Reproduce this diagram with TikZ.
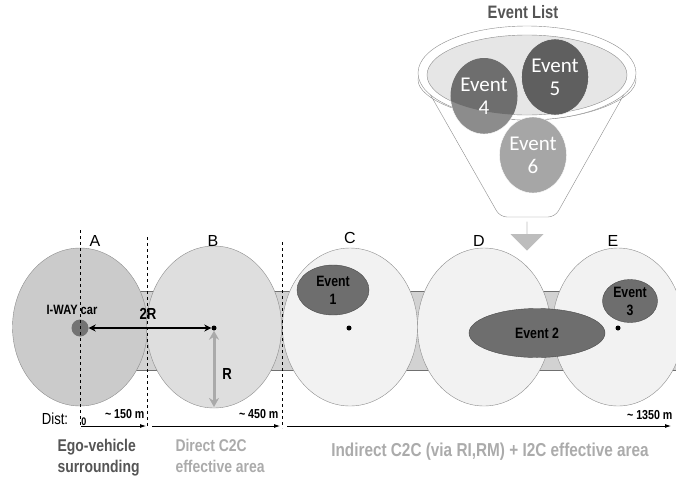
\documentclass[tikz,border=0pt]{standalone}
\usepackage{fontspec}
\setmainfont{Liberation Sans}
\newfontfamily\narrowfont[FakeStretch=0.82]{Liberation Sans}
\newfontfamily\eventfont{Carlito}
\usetikzlibrary{arrows.meta,positioning,shapes.geometric,shapes.arrows}
\definecolor{roadfill}{HTML}{D2D2D2}
\definecolor{zoneline}{HTML}{8C8C8C}
\definecolor{egofill}{HTML}{CBCBCB}
\definecolor{directfill}{HTML}{DEDEDE}
\definecolor{indirectfill}{HTML}{F2F2F2}
\definecolor{evfill}{HTML}{6E6E6E}
\definecolor{evline}{HTML}{4A4A4A}
\definecolor{listdark}{HTML}{5F5F5F}
\definecolor{listmid}{HTML}{8C8C8C}
\definecolor{listlight}{HTML}{A6A6A6}
\definecolor{funnelin}{HTML}{E6E6E6}
\definecolor{dropgray}{HTML}{BDBDBD}
\definecolor{textdark}{HTML}{555555}
\definecolor{textlight}{HTML}{ABABAB}
\tikzset{
  zone/.style={ellipse,draw=zoneline,minimum width=135pt,minimum height=158pt,inner sep=0pt},
  event/.style={ellipse,draw=evline,fill=evfill,font=\narrowfont\bfseries\fontsize{15}{18}\selectfont,align=center,inner sep=0pt},
  listevent/.style={ellipse,draw=white,minimum width=67pt,minimum height=76pt,inner sep=0pt},
  listtext/.style={text=white,font=\eventfont\fontsize{21}{23}\selectfont,align=center},
  zonelabel/.style={font=\fontsize{16}{16}\selectfont},
  marker/.style={circle,fill=black,inner sep=0pt,minimum size=5pt},
  guide/.style={dashed,line width=0.6pt},
  distarrow/.style={-{Latex[length=6pt,width=4pt]},line width=0.8pt},
  distlabel/.style={font=\narrowfont\bfseries\fontsize{13}{13}\selectfont},
  area/.style={font=\narrowfont\bfseries\fontsize{17}{21}\selectfont,align=left}
}

\begin{document}
\begin{tikzpicture}[x=1pt,y=-1pt]
  \useasboundingbox (0,0) rectangle (676,482);

  % road band behind the zones
  \draw[draw=zoneline!80!black,fill=roadfill] (40,291) rectangle (676,370);

  % communication zones
  \node[zone,fill=egofill] (A) at (80,327) {};
  \node[zone,fill=directfill,minimum height=162pt] (B) at (214,327) {};
  \node[zone,fill=indirectfill] (C) at (350,327) {};
  \node[zone,fill=indirectfill,minimum width=133pt] (D) at (484,327) {};
  \node[zone,fill=indirectfill,minimum width=131pt] (E) at (618,327) {};

  \node[zonelabel] at (95,241) {A};
  \node[zonelabel] at (213,241) {B};
  \node[zonelabel] at (350,238) {C};
  \node[zonelabel] at (479,241) {D};
  \node[zonelabel] at (613,241) {E};

  % events on the road
  \node[event,minimum width=72pt,minimum height=50pt] (ev1) at (333,290) {Event\\1};
  \node[event,minimum width=136pt,minimum height=49pt] (ev2) at (537,333) {Event 2};
  \node[event,minimum width=55pt,minimum height=43pt] (ev3) at (630,301) {Event\\3};

  % ego car and zone centres
  \node[circle,fill=black!55,inner sep=0pt,minimum size=17pt] (car) at (80,328) {};
  \node[font=\narrowfont\bfseries\fontsize{13.5}{13.5}\selectfont] at (72,310) {I-WAY car};
  \node[marker] (cB) at (214,328) {};
  \node[marker] (cC) at (349,328) {};
  \node[marker] (cE) at (618,328) {};
  \coordinate (rimB) at (214,407);

  \draw[{Stealth[length=7pt,width=7pt]}-{Stealth[length=7pt,width=7pt]},line width=1.4pt] (car) -- (cB);
  \node[font=\narrowfont\bfseries\fontsize{16}{16}\selectfont] at (148,314) {2R};
  \draw[{Stealth[length=9pt,width=10pt]}-{Stealth[length=9pt,width=10pt]},line width=3pt,dropgray!90!black] (cB) -- (rimB);
  \node[font=\narrowfont\bfseries\fontsize{16}{16}\selectfont] at (227,374) {R};

  % boundaries and distances
  \coordinate (d0) at (81,426);
  \coordinate (d1) at (146,426);
  \coordinate (d1b) at (152,426);
  \coordinate (d2) at (280,426);
  \coordinate (d2b) at (287,426);
  \coordinate (d3) at (671,426);
  \draw[guide] (80,230) -- (80,428);
  \draw[guide] (147,237) -- (147,428);
  \draw[guide] (282,242) -- (282,428);
  \draw[distarrow] (d0) -- (d1);
  \draw[distarrow] (d1b) -- (d2);
  \draw[distarrow] (d2b) -- (d3);

  \node[font=\narrowfont\fontsize{16}{16}\selectfont] at (55,419) {Dist:};
  \node[distlabel,font=\narrowfont\bfseries\fontsize{11}{11}\selectfont] at (84,422) {0};
  \node[distlabel,anchor=east] at (148,414) {\textasciitilde{} 150 m};
  \node[distlabel,anchor=east] at (282,414) {\textasciitilde{} 450 m};
  \node[distlabel,anchor=east] at (676,415) {\textasciitilde{} 1350 m};

  \node[area,text=textdark,anchor=north west] at (54,436) {Ego-vehicle\\surrounding};
  \node[area,text=textlight,anchor=north west] at (172,436) {Direct C2C\\effective area};
  \node[area,text=textlight,font=\narrowfont\bfseries\fontsize{18.7}{21}\selectfont] at (490,452) {Indirect C2C (via RI,RM) + I2C effective area};

  % event list funnel
  \node[font=\narrowfont\bfseries\fontsize{18}{18}\selectfont,text=textdark] (title) at (523,12) {Event List};
  \draw[zoneline,fill=white,rounded corners=7pt] (418,73) arc[start angle=180,end angle=0,x radius=109,y radius=47]
    -- (555,217) -- (500,217) -- cycle;
  \draw[zoneline,fill=white] (527,73) ellipse[x radius=109,y radius=47];
  \draw[zoneline,fill=funnelin] (527,75) ellipse[x radius=100,y radius=40];

  \node[listevent,fill=listmid] (ev4) at (484,96) {};
  \begin{scope}
    \clip (527,75) ellipse[x radius=100,y radius=40];
    \fill[evfill] (484,96) ellipse[x radius=33.5,y radius=38];
  \end{scope}
  \node[listtext] at (ev4) {Event\\4};
  \node[listevent,fill=listdark] (ev5) at (555,77) {};
  \node[listtext] at (ev5) {Event\\5};
  \node[listevent,fill=listlight] (ev6) at (533,155) {};
  \node[listtext] at (ev6) {Event\\6};

  \node[single arrow,fill=dropgray,shape border rotate=270,minimum width=33pt,minimum height=29pt,
    single arrow head extend=7pt,inner sep=0pt] (drop) at (527,236) {};
\end{tikzpicture}
\end{document}
